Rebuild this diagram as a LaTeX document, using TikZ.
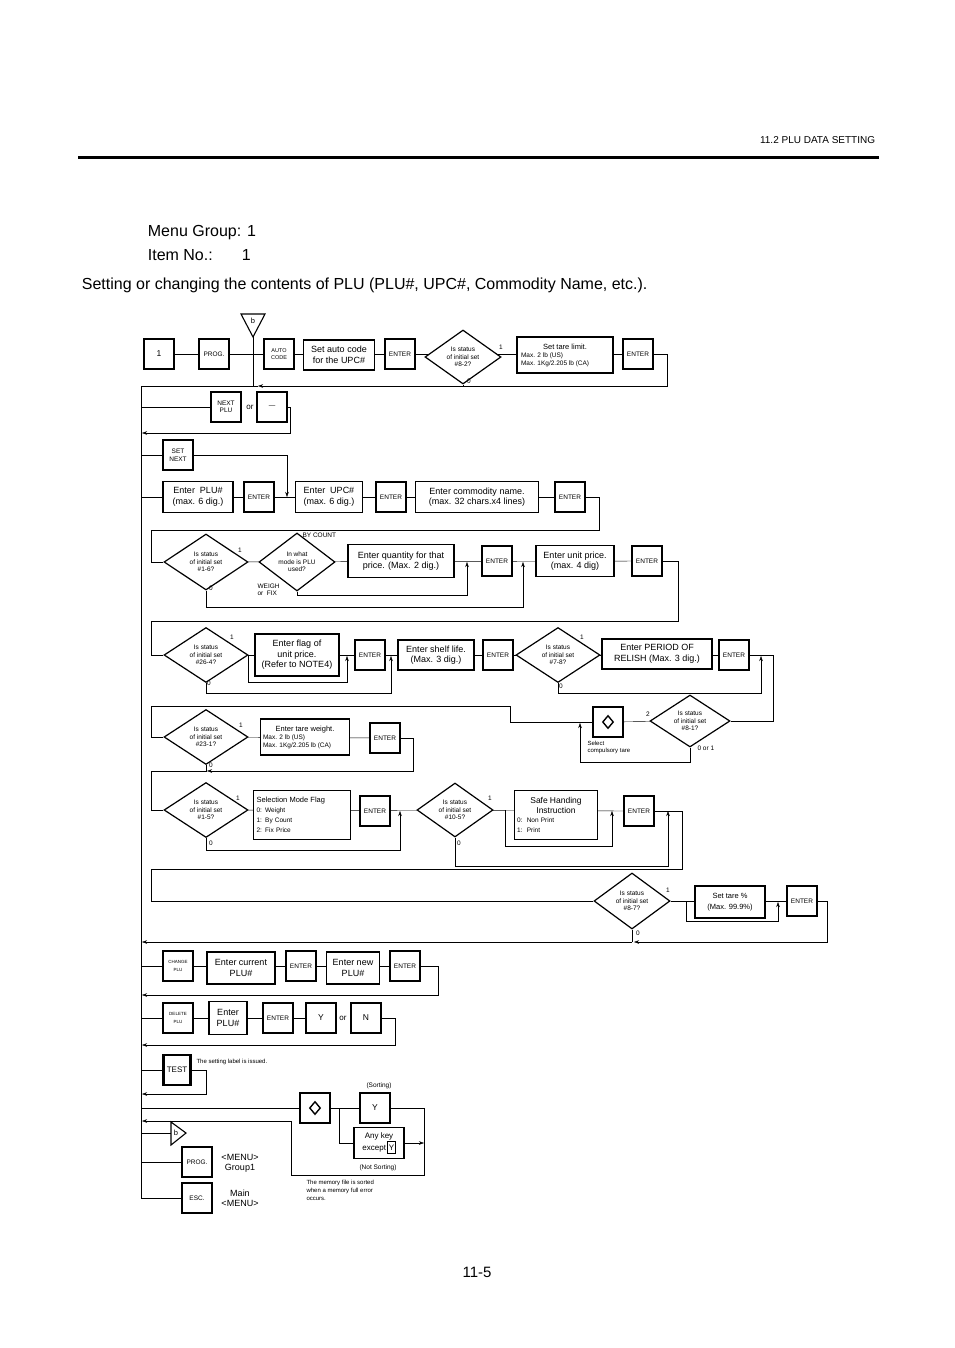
\documentclass[tikz,border=0pt]{standalone}
\usepackage{fontspec}
\setmainfont{Liberation Sans}
\usetikzlibrary{shapes.geometric,backgrounds,arrows.meta}
\begin{document}
\begin{tikzpicture}[x=1pt,y=-1pt,line width=1.1pt,
 >={Stealth[length=5pt,width=3.5pt]},
 key/.style={draw,fill=white,line width=2.3pt,minimum width=30pt,minimum height=30pt,inner sep=0pt,font=\fontsize{6.5}{7.5}\selectfont,align=center},
 box/.style={draw,fill=white,line width=1.1pt,inner sep=1pt,font=\fontsize{9}{10.5}\selectfont,align=center},
 tbox/.style={box,line width=1.8pt},
 dia/.style={draw,fill=white,shape=diamond,line width=1.2pt,inner sep=0pt},
 dtx/.style={font=\fontsize{6.5}{7.6}\selectfont,align=center},
 lab/.style={font=\fontsize{6.5}{7.5}\selectfont,inner sep=0pt},
 sm/.style={font=\fontsize{6}{7}\selectfont,align=left,inner sep=0pt}]
\useasboundingbox (0,0) rectangle (954,1348);
% header
\node[anchor=east,font=\fontsize{10}{11}\selectfont] (hdr) at (879,140) {11.2 PLU DATA SETTING};
\draw[line width=3pt] (78,158) -- (879,158);
\node[anchor=west,font=\fontsize{16}{18}\selectfont] (mg) at (144,233) {Menu Group:\hspace{6pt}1};
\node[anchor=west,font=\fontsize{16}{18}\selectfont] (it) at (144,255) {Item No.:\hspace{29pt}1};
\node[anchor=west,font=\fontsize{16}{18}\selectfont] (sc) at (78,285) {Setting or changing the contents of PLU (PLU\#, UPC\#, Commodity Name, etc.).};
\node[font=\fontsize{15}{16}\selectfont] (pg) at (477,1272) {11-5};

% row 1
\node[key,font=\fontsize{8.5}{10}\selectfont] (k1) at (159,354) {1};
\node[key] (prog) at (214,354) {PROG.};
\coordinate (btip) at (253,337);
\draw[fill=white,line width=1.1pt] (241,314) -- (265,314) -- (btip) -- cycle;
\node[lab,font=\fontsize{7.5}{8}\selectfont] (bt) at (253,321) {b};
\node[key,font=\fontsize{5.5}{6.5}\selectfont] (auto) at (279,354) {AUTO\\CODE};
\node[box,minimum width=71pt,minimum height=30pt] (setauto) at (339,355) {Set auto code\\for the UPC\#};
\node[key] (e1) at (400,354) {ENTER};
\node[dia,minimum width=76pt,minimum height=54pt] (d82) at (463,357) {};
\node[dtx] at (d82) {Is status\\of initial set\\\#8-2?};
\node[box,minimum width=96pt,minimum height=36pt,align=left,font=\fontsize{6.5}{8}\selectfont] (tare) at (565,355) {\makebox[88pt]{\fontsize{7.5}{8}\selectfont Set tare limit.}\\Max. 2 lb (US)\\Max. 1Kg/2.205 lb (CA)};
\node[key] (e2) at (638,354) {ENTER};
\node[lab] at (501,347) {1};
\node[lab] at (469,381) {0};

% next plu
\node[key] (next) at (226,407) {NEXT\\PLU};
\node[lab,font=\fontsize{8}{9}\selectfont] at (250,407) {or};
\node[key] (dash) at (272,407) {---};
\node[key] (setnext) at (178,455) {SET\\NEXT};

% row enter plu
\node[box,minimum width=70pt,minimum height=31pt] (plu) at (198,497) {Enter\ \ PLU\#\\(max. 6 dig.)};
\node[key] (e3) at (259,497) {ENTER};
\node[box,minimum width=67pt,minimum height=31pt] (upc) at (329,497) {Enter\ \ UPC\#\\(max. 6 dig.)};
\node[key] (e4) at (391,497) {ENTER};
\node[box,minimum width=123pt,minimum height=31pt] (comm) at (477,497) {Enter commodity name.\\(max. 32 chars.x4 lines)};
\node[key] (e5) at (570,497) {ENTER};

% row 1-6
\node[dia,minimum width=84pt,minimum height=56pt] (d16) at (206,562) {};
\node[dtx] at (d16) {Is status\\of initial set\\\#1-6?};
\node[dia,minimum width=76pt,minimum height=58pt] (mode) at (297,562) {};
\node[dtx] at (mode) {In what\\mode is PLU\\used?};
\node[box,minimum width=106pt,minimum height=33pt] (qty) at (401,561) {Enter quantity for that\\price. (Max. 2 dig.)};
\node[key] (e6) at (497,561) {ENTER};
\node[box,minimum width=78pt,minimum height=31pt] (unit) at (575,561) {Enter unit price.\\(max. 4 dig)};
\node[key] (e7) at (647,561) {ENTER};
\node[lab] at (240,550) {1};
\node[lab] at (211,588) {0};
\node[lab,anchor=west] at (302,535) {BY COUNT};
\node[sm,anchor=west,font=\fontsize{6.5}{7.5}\selectfont] at (257,590) {WEIGH\\or\ \ FIX};

% row 26-4
\node[dia,minimum width=84pt,minimum height=55pt] (d264) at (206,655) {};
\node[dtx] at (d264) {Is status\\of initial set\\\#26-4?};
\node[box,minimum width=84pt,minimum height=42pt] (flag) at (297,655) {Enter flag of\\unit price.\\(Refer to NOTE4)};
\node[key] (e8) at (370,655) {ENTER};
\node[box,minimum width=76pt,minimum height=30pt] (shelf) at (436,655) {Enter shelf life.\\(Max. 3 dig.)};
\node[key] (e9) at (498,655) {ENTER};
\node[dia,minimum width=84pt,minimum height=55pt] (d78) at (558,655) {};
\node[dtx] at (d78) {Is status\\of initial set\\\#7-8?};
\node[box,minimum width=110pt,minimum height=30pt] (period) at (657,654) {Enter PERIOD OF\\RELISH (Max. 3 dig.)};
\node[key] (e10) at (734,655) {ENTER};
\node[lab] at (232,637) {1};
\node[lab] at (209,683) {0};
\node[lab] at (582,637) {1};
\node[lab] at (561,686) {0};

% 8-1
\node[dia,minimum width=80pt,minimum height=52pt] (d81) at (690,721) {};
\node[dtx] at (d81) {Is status\\of initial set\\\#8-1?};
\node[key] (sel) at (608,722) {};
\node[draw,diamond,line width=1.4pt,minimum width=11pt,minimum height=13pt,inner sep=0pt] at (sel) {};
\node[lab] at (648,714) {2};
\node[lab,anchor=west] at (697,748) {0 or 1};
\node[sm,anchor=north west] at (587,741) {Select\\compulsory tare};

% row 23-1
\node[dia,minimum width=84pt,minimum height=55pt] (d231) at (206,737) {};
\node[dtx] at (d231) {Is status\\of initial set\\\#23-1?};
\node[tbox,minimum width=89pt,minimum height=36pt,align=left,font=\fontsize{6.5}{8}\selectfont] (tw) at (305,737) {\makebox[84pt]{\fontsize{7.5}{8}\selectfont Enter tare weight.}\\Max. 2 lb (US)\\Max. 1Kg/2.205 lb (CA)};
\node[key] (e11) at (385,738) {ENTER};
\node[lab] at (241,725) {1};
\node[lab] at (211,765) {0};

% row 1-5
\node[dia,minimum width=84pt,minimum height=55pt] (d15) at (206,810) {};
\node[dtx] at (d15) {Is status\\of initial set\\\#1-5?};
\node[tbox,minimum width=97pt,minimum height=49pt,align=left,text width=91pt,font=\fontsize{6.5}{10}\selectfont] (smf) at (302,815) {{\fontsize{7.5}{9}\selectfont Selection Mode Flag}\\0: Weight\\1: By Count\\2: Fix Price};
\node[key] (e12) at (375,811) {ENTER};
\node[dia,minimum width=76pt,minimum height=54pt] (d105) at (455,810) {};
\node[dtx] at (d105) {Is status\\of initial set\\\#10-5?};
\node[tbox,minimum width=83pt,minimum height=49pt,align=left,text width=78pt,font=\fontsize{6.5}{9.5}\selectfont] (safe) at (556,815) {\makebox[78pt]{\fontsize{8.5}{10}\selectfont Safe Handing}\\\makebox[78pt]{\fontsize{8.5}{10}\selectfont Instruction}\\0:\ \ Non Print\\1:\ \ Print};
\node[key] (e13) at (639,811) {ENTER};
\node[lab] at (238,798) {1};
\node[lab] at (211,843) {0};
\node[lab] at (490,798) {1};
\node[lab] at (459,843) {0};

% row 8-7
\node[dia,minimum width=76pt,minimum height=56pt] (d87) at (632,901) {};
\node[dtx] at (d87) {Is status\\of initial set\\\#8-7?};
\node[box,minimum width=70pt,minimum height=32pt,font=\fontsize{7.5}{11}\selectfont] (settare) at (730,902) {Set tare \%\\(Max. 99.9\%)};
\node[key] (e14) at (802,901) {ENTER};
\node[lab] at (668,890) {1};
\node[lab] at (638,933) {0};

% change
\node[key,font=\fontsize{4.5}{8}\selectfont] (chg) at (178,966) {CHANGE\\PLU};
\node[box,minimum width=68pt,minimum height=32pt] (cur) at (241,968) {Enter current\\PLU\#};
\node[key] (e15) at (301,966) {ENTER};
\node[box,minimum width=53pt,minimum height=32pt] (newp) at (353,968) {Enter new\\PLU\#};
\node[key] (e16) at (405,966) {ENTER};
% delete
\node[key,font=\fontsize{4.5}{8}\selectfont] (del) at (178,1018) {DELETE\\PLU};
\node[tbox,minimum width=38pt,minimum height=33pt] (plu2) at (228,1018) {Enter\\PLU\#};
\node[key] (e17) at (278,1018) {ENTER};
\node[key,font=\fontsize{8.5}{10}\selectfont] (yk1) at (321,1018) {Y};
\node[lab,font=\fontsize{8}{9}\selectfont] at (343,1018) {or};
\node[key,font=\fontsize{8.5}{10}\selectfont] (nk) at (366,1018) {N};
% test
\node[key,minimum width=27pt,font=\fontsize{8}{9}\selectfont] (test) at (177,1070) {TEST};
\node[lab,anchor=west,font=\fontsize{6}{7}\selectfont] at (196,1062) {The setting label is issued.};
% sort
\node[key] (dm) at (315,1108) {};
\node[draw,diamond,line width=1.4pt,minimum width=11pt,minimum height=13pt,inner sep=0pt] at (dm) {};
\node[key,font=\fontsize{8.5}{10}\selectfont] (yk2) at (375,1108) {Y};
\node[box,minimum width=50pt,minimum height=31pt,font=\fontsize{8}{10}\selectfont] (any) at (379,1143) {Any key\\except\,\fbox{\rule{0pt}{6pt}\hspace{-2pt}Y\hspace{-2pt}}};
\node[lab] at (379,1086) {(Sorting)};
\node[lab] at (378,1168) {(Not Sorting)};
\node[sm,anchor=north west,font=\fontsize{6}{8}\selectfont] at (306,1180) {The memory file is sorted\\when a memory full error\\occurs.};
\coordinate (btip2) at (186,1133);
\draw[fill=white,line width=1.1pt] (171,1122) -- (171,1145) -- (btip2) -- cycle;
\node[lab,font=\fontsize{7.5}{8}\selectfont] at (176,1133) {b};
\node[key] (prog2) at (197,1162) {PROG.};
\node[key] (esc) at (197,1198) {ESC.};
\node[font=\fontsize{9}{10}\selectfont,align=center] at (240,1163) {\textless MENU\textgreater\\Group1};
\node[font=\fontsize{9}{10}\selectfont,align=center] at (240,1198) {Main\\\textless MENU\textgreater};

\begin{scope}[on background layer]
\draw (k1) -- (e2);
\draw[->] (e2.east) -| (667,386) -- (258,386);
\draw (258,386) -- (141,386) -- (141,1198);
\draw (btip) -- (253,386);
\draw (d82.south) -- (463,386);
\draw (141,407) -- (next);
\draw[->] (dash.east) -| (290,433) -- (142,433);
\draw (141,455) -- (setnext);
\draw[->] (setnext.east) -| (287,497);
\draw (141,497) -- (e5);
\draw (e5.east) -| (599,530) -| (151,562) -- (d16.west);
\draw (d16) -- (e7);
\draw[->] (mode.south) -- (297,595) -| (467,562);
\draw[->] (d16.south) -- (206,607) -| (523,562);
\draw (e7.east) -| (678,621) -| (151,655) -- (d264.west);
\draw (d264) -- (e10);
\draw[->] (248,655) -- (248,682) -| (347,656);
\draw[->] (d264.south) -- (206,693) -| (391,656);
\draw[->] (d78.south) -- (558,693) -| (761,656);
\draw (e10.east) -| (773,721) -- (d81.east);
\draw (d81) -- (sel);
\draw (sel.west) -- (510,722) |- (151,706) -- (151,737) -- (d231.west);
\draw[->] (d81.south) -- (690,762) -| (580,723);
\draw (d231) -- (e11);
\draw[->] (e11.east) -| (413,771) -- (207,771);
\draw (d231.south) -- (206,771) -- (151,771) -- (151,810) -- (d15.west);
\draw (d15) -- (e13);
\draw[->] (505,810) -- (505,846) -| (612,811);
\draw[->] (d15.south) -- (206,850) -| (400,811);
\draw[->] (d105.south) -- (455,866) -| (668,811);
\draw (e13.east) -| (682,869) -| (151,901) -- (d87.west);
\draw (d87) -- (e14);
\draw[->] (686,901) -- (686,921) -| (778,902);
\draw[->] (e14.east) -| (827,942) -- (634,942);
\draw (d87.south) -- (632,942);
\draw[->] (632,942) -- (142,942);
\draw (141,966) -- (e16);
\draw[->] (e16.east) -| (438,995) -- (142,995);
\draw (141,1018) -- (yk1);
\draw[->] (nk.east) -| (395,1045) -- (142,1045);
\draw (141,1070) -- (test);
\draw[->] (test.east) -| (206,1094) -- (142,1094);
\draw (141,1108) -- (yk2);
\draw (339,1108) |- (any.west);
\draw[->] (any.east) -- (424,1143);
\draw (yk2.east) -| (424,1175) -| (291,1121);
\draw[->] (291,1121) -- (142,1121);
\draw (141,1133) -- (171,1133);
\draw (141,1162) -- (prog2);
\draw (141,1198) -- (esc);
\end{scope}
\end{tikzpicture}
\end{document}
